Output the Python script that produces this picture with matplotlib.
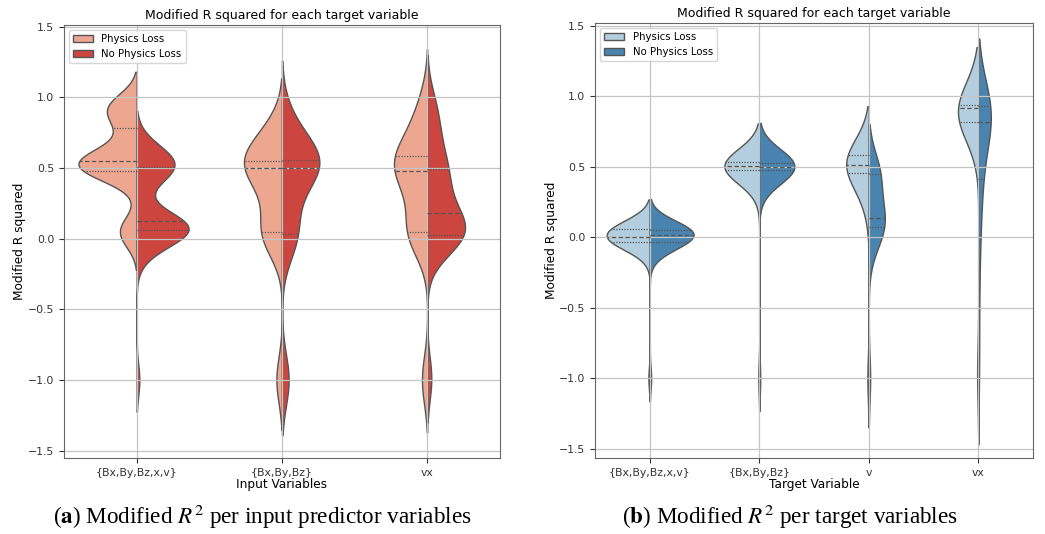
import numpy as np
import matplotlib
matplotlib.use('Agg')
import matplotlib.pyplot as plt
from matplotlib.patches import Patch

matplotlib.rcParams['font.family'] = ['DejaVu Sans']
matplotlib.rcParams['mathtext.fontset'] = 'stix'

hue_labels = ['Physics Loss', 'No Physics Loss']
input_vars = ['{Bx,By,Bz,x,v}', '{Bx,By,Bz}', 'vx']
target_vars = ['{Bx,By,Bz,x,v}', '{Bx,By,Bz}', 'v', 'vx']

# modified R^2 of every run, grouped by input predictor set
in_all_phys = [-0.02, 0.02, 0.04, 0.06, 0.08, 0.11, 0.42, 0.44, 0.46, 0.47,
               0.48, 0.48, 0.49, 0.5, 0.51, 0.52, 0.53, 0.54, 0.54, 0.545,
               0.55, 0.55, 0.56, 0.57, 0.58, 0.6, 0.62, 0.65, 0.77, 0.78,
               0.8, 0.86, 0.89, 0.91, 0.92, 0.93, 0.94, 0.95, 0.96, 0.98]
in_all_nophys = [-1.0, -0.12, -0.06, -0.02, 0.0, 0.02, 0.035, 0.045, 0.055, 0.06,
                 0.06, 0.065, 0.07, 0.075, 0.08, 0.09, 0.1, 0.105, 0.11, 0.12,
                 0.125, 0.14, 0.17, 0.36, 0.42, 0.45, 0.47, 0.49, 0.5, 0.505,
                 0.51, 0.52, 0.53, 0.54, 0.55, 0.57, 0.59, 0.61, 0.64, 0.68]
in_b_phys = [-1.03, -1.0, -0.97, -0.06, -0.02, 0.0, 0.02, 0.03, 0.04, 0.04,
             0.045, 0.09, 0.15, 0.21, 0.27, 0.32, 0.36, 0.4, 0.44, 0.5,
             0.5, 0.505, 0.51, 0.515, 0.52, 0.525, 0.53, 0.535, 0.54, 0.547,
             0.56, 0.58, 0.61, 0.64, 0.67, 0.7, 0.73, 0.76, 0.79, 0.81]
in_b_nophys = [-1.03, -1.0, -1.0, -0.97, -0.05, -0.01, 0.01, 0.02, 0.03, 0.03,
               0.035, 0.12, 0.2, 0.28, 0.35, 0.4, 0.44, 0.47, 0.49, 0.5,
               0.5, 0.51, 0.52, 0.53, 0.535, 0.54, 0.545, 0.55, 0.555, 0.56,
               0.56, 0.58, 0.6, 0.63, 0.66, 0.7, 0.74, 0.79, 0.84, 0.9]
in_vx_phys = [-1.03, -1.0, -0.97, -0.04, -0.01, 0.01, 0.02, 0.03, 0.04, 0.045,
              0.05, 0.1, 0.16, 0.22, 0.28, 0.33, 0.37, 0.41, 0.44, 0.48,
              0.48, 0.49, 0.5, 0.51, 0.52, 0.53, 0.55, 0.56, 0.57, 0.58,
              0.59, 0.62, 0.66, 0.7, 0.74, 0.78, 0.83, 0.88, 0.94, 1.0]
in_vx_nophys = [-1.0, -0.98, -0.1, -0.06, -0.03, -0.01, 0.0, 0.01, 0.02, 0.025,
                0.03, 0.04, 0.05, 0.06, 0.07, 0.09, 0.11, 0.13, 0.15, 0.17,
                0.19, 0.22, 0.26, 0.3, 0.34, 0.38, 0.42, 0.45, 0.47, 0.49,
                0.5, 0.55, 0.6, 0.65, 0.7, 0.76, 0.82, 0.88, 0.94, 1.0]

# modified R^2 of every run, grouped by target variable
tg_all_phys = [-1.0, -0.12, -0.1, -0.08, -0.06, -0.05, -0.045, -0.04, -0.035, -0.03,
               -0.03, -0.025, -0.02, -0.015, -0.01, -0.01, -0.005, 0.0, 0.0, 0.0,
               0.005, 0.01, 0.015, 0.02, 0.025, 0.03, 0.035, 0.045, 0.055, 0.06,
               0.065, 0.07, 0.075, 0.08, 0.085, 0.09, 0.095, 0.1, 0.1, 0.105]
tg_all_nophys = [-1.0, -0.12, -0.1, -0.08, -0.065, -0.05, -0.045, -0.04, -0.038, -0.035,
                 -0.035, -0.03, -0.02, -0.01, -0.005, 0.0, 0.005, 0.01, 0.012, 0.015,
                 0.015, 0.02, 0.025, 0.03, 0.035, 0.04, 0.045, 0.05, 0.052, 0.055,
                 0.055, 0.06, 0.065, 0.07, 0.075, 0.08, 0.085, 0.09, 0.1, 0.11]
tg_b_phys = [-1.0, 0.35, 0.39, 0.42, 0.44, 0.45, 0.46, 0.465, 0.47, 0.475,
             0.475, 0.48, 0.485, 0.49, 0.49, 0.495, 0.495, 0.5, 0.5, 0.5,
             0.505, 0.51, 0.51, 0.515, 0.515, 0.52, 0.52, 0.525, 0.525, 0.53,
             0.532, 0.535, 0.54, 0.545, 0.55, 0.555, 0.56, 0.565, 0.57, 0.575]
tg_b_nophys = [-1.0, 0.36, 0.4, 0.42, 0.44, 0.45, 0.46, 0.465, 0.47, 0.475,
               0.475, 0.48, 0.485, 0.49, 0.49, 0.495, 0.495, 0.5, 0.5, 0.5,
               0.5, 0.505, 0.51, 0.51, 0.515, 0.515, 0.52, 0.52, 0.525, 0.525,
               0.528, 0.53, 0.535, 0.54, 0.545, 0.55, 0.555, 0.56, 0.57, 0.58]
tg_v_phys = [-1.02, -0.98, 0.2, 0.26, 0.3, 0.34, 0.37, 0.4, 0.42, 0.44,
             0.46, 0.47, 0.48, 0.485, 0.49, 0.495, 0.5, 0.5, 0.505, 0.51,
             0.51, 0.515, 0.52, 0.53, 0.535, 0.54, 0.55, 0.56, 0.57, 0.58,
             0.58, 0.582, 0.584, 0.586, 0.588, 0.59, 0.592, 0.594, 0.597, 0.6]
tg_v_nophys = [-1.02, -0.98, -0.1, -0.05, -0.01, 0.02, 0.04, 0.05, 0.06, 0.07,
               0.07, 0.08, 0.09, 0.1, 0.11, 0.115, 0.12, 0.125, 0.13, 0.135,
               0.14, 0.15, 0.17, 0.2, 0.25, 0.3, 0.36, 0.41, 0.43, 0.45,
               0.45, 0.455, 0.46, 0.46, 0.465, 0.47, 0.475, 0.48, 0.485, 0.49]
tg_vx_phys = [-1.0, -0.95, 0.76, 0.77, 0.78, 0.79, 0.8, 0.8, 0.81, 0.815,
              0.82, 0.83, 0.84, 0.85, 0.86, 0.87, 0.88, 0.89, 0.9, 0.91,
              0.92, 0.925, 0.93, 0.93, 0.935, 0.935, 0.937, 0.94, 0.94, 0.94,
              0.94, 0.942, 0.943, 0.944, 0.945, 0.946, 0.947, 0.948, 0.949, 0.95]
tg_vx_nophys = [-1.0, -0.75, -0.45, -0.2, -0.05, 0.08, 0.18, 0.27, 0.34, 0.4,
                0.42, 0.48, 0.55, 0.62, 0.68, 0.72, 0.75, 0.78, 0.8, 0.82,
                0.82, 0.84, 0.86, 0.87, 0.88, 0.89, 0.9, 0.91, 0.92, 0.93,
                0.93, 0.931, 0.932, 0.933, 0.934, 0.935, 0.936, 0.937, 0.938, 0.94]

reds = ['#EDA791', '#CC453E']
blues = ['#B3CEDE', '#4884AF']
edge = '#555555'


def kde_curve(values, bw_adjust=1.0, cut=2, gridsize=200):
    # gaussian kde with scott's bandwidth, like seaborn's violinplot
    v = np.asarray(values, dtype=float)
    bw = v.std(ddof=1) * len(v) ** (-1 / 5) * bw_adjust
    y = np.linspace(v.min() - cut * bw, v.max() + cut * bw, gridsize)
    dens = np.exp(-0.5 * ((y[:, None] - v[None, :]) / bw) ** 2).sum(axis=1)
    dens /= len(v) * bw * np.sqrt(2 * np.pi)
    return y, dens


def draw_split_violins(ax, categories, left, right, colors, xlabel, ylim, bw_adjust):
    groups = [left, right]
    curves = [[kde_curve(d, bw_adjust) for d in g] for g in groups]
    peak = max(d.max() for g in curves for _, d in g)
    scale = 0.4 / peak

    for i in range(len(categories)):
        for side, sign in ((0, -1), (1, 1)):
            y, dens = curves[side][i]
            w = dens * scale
            ax.fill_betweenx(y, i, i + sign * w, facecolor=colors[side],
                             edgecolor=edge, linewidth=1.0)
            q = np.percentile(groups[side][i], [25, 50, 75])
            qw = np.interp(q, y, w)
            for k in range(3):
                ls = (0, (3.5, 2)) if k == 1 else (0, (1, 1.2))
                ax.plot([i, i + sign * qw[k]], [q[k], q[k]], color=edge,
                        linewidth=0.9, linestyle=ls)

    ax.set_xlim(-0.5, len(categories) - 0.5)
    ax.set_ylim(*ylim)
    ax.set_xticks(range(len(categories)))
    ax.set_xticklabels(categories)
    ax.set_yticks([-1.5, -1.0, -0.5, 0.0, 0.5, 1.0, 1.5])
    ax.tick_params(labelsize=7.8, colors='#333333')
    ax.grid(True, color='#c4c4c4', linewidth=0.9)
    for s in ax.spines.values():
        s.set_color('#666666')
    ax.set_title('Modified R squared for each target variable', fontsize=9, pad=4)
    ax.set_xlabel(xlabel, fontsize=8.7, labelpad=0)
    ax.set_ylabel('Modified R squared', fontsize=8.7, labelpad=1)
    handles = [Patch(facecolor=c, edgecolor=edge, label=l) for c, l in zip(colors, hue_labels)]
    ax.legend(handles=handles, loc='upper left', fontsize=7.3, framealpha=0.8)


fig = plt.figure(figsize=(10.45, 5.34), dpi=100)
ax1 = fig.add_axes([0.0612, 0.1423, 0.4172, 0.8109])
ax2 = fig.add_axes([0.5694, 0.1418, 0.4191, 0.8157])

draw_split_violins(ax1, input_vars,
                   [in_all_phys, in_b_phys, in_vx_phys],
                   [in_all_nophys, in_b_nophys, in_vx_nophys],
                   reds, 'Input Variables', (-1.552, 1.512), 0.75)
draw_split_violins(ax2, target_vars,
                   [tg_all_phys, tg_b_phys, tg_v_phys, tg_vx_phys],
                   [tg_all_nophys, tg_b_nophys, tg_v_nophys, tg_vx_nophys],
                   blues, 'Target Variable', (-1.566, 1.521), 1.0)

cap = dict(ha='center', va='center', fontsize=16.7, family='Liberation Serif')
fig.text(262 / 1045, 1 - 517 / 534,
         r'($\mathbf{a}$) Modified $R^2$ per input predictor variables', **cap)
fig.text(790 / 1045, 1 - 517 / 534,
         r'($\mathbf{b}$) Modified $R^2$ per target variables', **cap)

fig.savefig('out.png', dpi=100)
